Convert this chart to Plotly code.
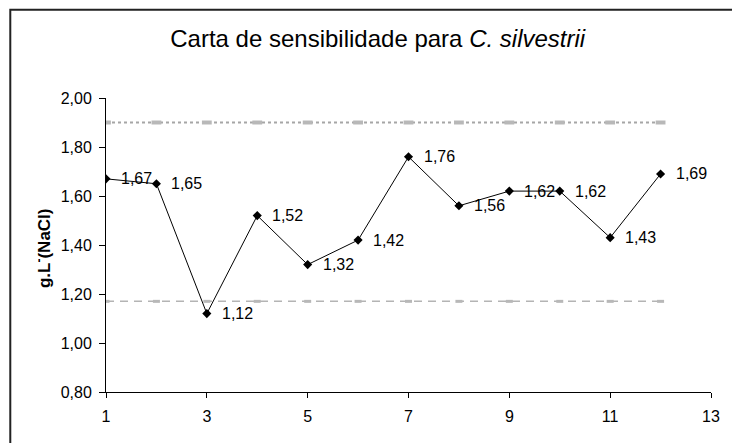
import plotly.graph_objects as go

# ---- data ----
amostras = [1, 2, 3, 4, 5, 6, 7, 8, 9, 10, 11, 12]
valores = [1.67, 1.65, 1.12, 1.52, 1.32, 1.42, 1.76, 1.56, 1.62, 1.62, 1.43, 1.69]
rotulos = ["1,67", "1,65", "1,12", "1,52", "1,32", "1,42", "1,76", "1,56", "1,62", "1,62", "1,43", "1,69"]
limite_superior = [1.90] * 12
limite_inferior = [1.17] * 12
y_ticks = [0.80, 1.00, 1.20, 1.40, 1.60, 1.80, 2.00]
x_ticks = [1, 3, 5, 7, 9, 11, 13]

FONT = "Liberation Sans, Arial, sans-serif"

fig = go.Figure()

# upper limit (dotted)
fig.add_trace(go.Scatter(
    x=amostras, y=limite_superior, mode="lines+markers",
    line=dict(color="#a6a6a6", width=2, dash="3px,3px"),
    marker=dict(symbol="line-ew", size=7, line=dict(color="#b8b8b8", width=4)),
    hoverinfo="skip", showlegend=False))

# lower limit (dashed)
fig.add_trace(go.Scatter(
    x=amostras, y=limite_inferior, mode="lines+markers",
    line=dict(color="#b4b4b4", width=1.5, dash="8px,6px"),
    marker=dict(symbol="line-ew", size=5, line=dict(color="#b8b8b8", width=3)),
    hoverinfo="skip", showlegend=False))

# data series
fig.add_trace(go.Scatter(
    x=amostras, y=valores, mode="lines+markers",
    line=dict(color="black", width=1),
    marker=dict(symbol="diamond", size=7, color="black"),
    showlegend=False))

# data labels
for xv, yv, t in zip(amostras, valores, rotulos):
    fig.add_annotation(x=xv, y=yv, text=t, showarrow=False,
                       xanchor="left", yanchor="middle", xshift=13,
                       font=dict(family=FONT, size=16, color="black"))

# y-axis title
fig.add_annotation(xref="paper", yref="paper", x=-0.104, y=0.49,
                   text="<b>g.L<sup>-</sup>(NaCl)</b>", textangle=-90,
                   showarrow=False, xanchor="center", yanchor="middle",
                   font=dict(family=FONT, size=17, color="black"))

# outer chart frame
fig.add_shape(type="rect", xref="paper", yref="paper",
              x0=-0.1582, x1=1.05, y0=-0.25, y1=1.3003,
              line=dict(color="#222222", width=2), layer="below")

fig.update_layout(
    width=732, height=443,
    margin=dict(l=106, r=13, t=98, b=51),
    paper_bgcolor="white", plot_bgcolor="white",
    separators=",.",
    title=dict(text="Carta de sensibilidade para <i>C. silvestrii</i>",
               x=0.516, xanchor="center", y=1 - 39 / 443, yanchor="middle",
               font=dict(family=FONT, size=24, color="black")),
    font=dict(family=FONT, color="black"),
)

fig.update_xaxes(range=[1, 13], tickvals=x_ticks, ticktext=[str(v) for v in x_ticks],
                 showgrid=False, zeroline=False, showline=True, linecolor="black",
                 linewidth=1, ticks="outside", ticklen=5, tickcolor="black",
                 ticklabelstandoff=5,
                 tickfont=dict(family=FONT, size=16, color="black"))
fig.update_yaxes(range=[0.8, 2.0], tickvals=y_ticks, tickformat=".2f",
                 showgrid=False, zeroline=False, showline=True, linecolor="black",
                 linewidth=1, ticks="outside", ticklen=6, tickcolor="black",
                 ticklabelstandoff=4,
                 tickfont=dict(family=FONT, size=16, color="black"))

fig.write_html("out.html",
               config={"displayModeBar": False},
               post_script="document.body.style.margin='0px';document.body.style.overflow='hidden';")
